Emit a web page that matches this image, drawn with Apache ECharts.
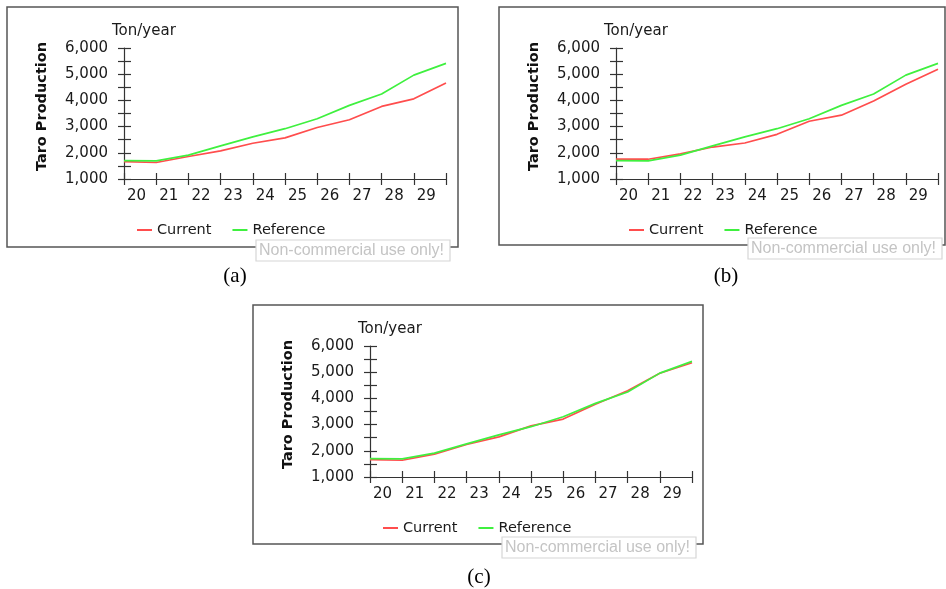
<!DOCTYPE html>
<html>
<head>
<meta charset="utf-8">
<script src="https://cdn.jsdelivr.net/npm/echarts@6/dist/echarts.min.js"></script>
<style>
html,body{margin:0;padding:0;background:#fff;}
#chart{width:946px;height:589px;}
</style>
</head>
<body>
<div id="chart"></div>
<script>
// ---- data ----
var years = [20, 21, 22, 23, 24, 25, 26, 27, 28, 29, 30];
var yTicks = [1000, 2000, 3000, 4000, 5000, 6000];
var referenceValues = [1700, 1690, 1910, 2265, 2610, 2920, 3300, 3810, 4245, 4965, 5415];
var currentA = [1665, 1630, 1860, 2075, 2365, 2570, 2965, 3260, 3770, 4060, 4660];
var currentB = [1755, 1755, 1960, 2220, 2375, 2705, 3205, 3435, 3975, 4615, 5190];
var currentC = [1665, 1640, 1870, 2240, 2530, 2950, 3210, 3780, 4290, 4960, 5360];
var panelLabels = ['(a)', '(b)', '(c)'];
var seriesNames = ['Current', 'Reference'];
var unitText = 'Ton/year';
var yTitle = 'Taro Production';
var watermarkText = 'Non-commercial use only!';

var FONT = 'DejaVu Sans';
var RED = '#ff4d4d';
var GREEN = '#3ff03f';
var AXIS = '#333';

// panel boxes: [x, y, w, h]
var boxes = [[7, 7, 451, 240], [499, 7, 446, 238], [253, 305, 450, 239]];
var currents = [currentA, currentB, currentC];

var grids = [], xAxes = [], yAxes = [], series = [], legends = [], graphics = [];

function pairs(vals) { return years.map(function (y, i) { return [y, vals[i]]; }); }

boxes.forEach(function (b, p) {
  var bx = b[0], by = b[1], bw = b[2], bh = b[3];
  grids.push({ left: bx + 117, top: by + 41, width: 322, height: 131, containLabel: false });
  var xi = xAxes.length, yi = yAxes.length;
  xAxes.push({
    type: 'value', gridIndex: p, min: 20, max: 30, interval: 1,
    axisLine: { show: true, lineStyle: { color: AXIS, width: 1.2 } },
    axisTick: { show: true, length: 6, lineStyle: { color: AXIS, width: 1.2 } },
    splitLine: { show: false },
    axisLabel: {
      color: '#1a1a1a', fontFamily: FONT, fontSize: 15, margin: 10, align: 'left',
      padding: [0, 0, 0, 3], showMaxLabel: true,
      formatter: function (v) { return v < 30 ? String(v) : ''; }
    }
  });
  xAxes.push({
    type: 'value', gridIndex: p, min: 20, max: 30, interval: 1, position: 'bottom',
    axisLine: { show: false }, splitLine: { show: false }, axisLabel: { show: false },
    axisTick: { show: true, inside: true, length: 6, lineStyle: { color: AXIS, width: 1.2 } }
  });
  yAxes.push({
    type: 'value', gridIndex: p, min: 1000, max: 6000, interval: 500, position: 'left',
    axisLine: { show: true, lineStyle: { color: AXIS, width: 1.2 } },
    axisTick: { show: true, length: 6, lineStyle: { color: AXIS, width: 1.2 } },
    splitLine: { show: false },
    axisLabel: {
      color: '#1a1a1a', fontFamily: FONT, fontSize: 15, margin: 16,
      formatter: function (v) { return yTicks.indexOf(v) >= 0 ? v.toLocaleString('en-US') : ''; }
    }
  });
  yAxes.push({
    type: 'value', gridIndex: p, min: 1000, max: 6000, interval: 500, position: 'left', offset: 0,
    axisLine: { show: false }, splitLine: { show: false }, axisLabel: { show: false },
    axisTick: { show: true, inside: true, length: 7, lineStyle: { color: AXIS, width: 1.2 } }
  });
  series.push({
    name: seriesNames[1], type: 'line', xAxisIndex: xi, yAxisIndex: yi, data: pairs(referenceValues),
    symbol: 'none', lineStyle: { color: GREEN, width: 1.7 }, itemStyle: { color: GREEN }, z: 3
  });
  series.push({
    name: seriesNames[0], type: 'line', xAxisIndex: xi, yAxisIndex: yi, data: pairs(currents[p]),
    symbol: 'none', lineStyle: { color: RED, width: 1.7 }, itemStyle: { color: RED }, z: 2
  });
  legends.push({
    data: seriesNames, left: bx + 125, top: by + 210.5, icon: 'rect', itemWidth: 15, itemHeight: 2, itemGap: 21,
    textStyle: { fontFamily: FONT, fontSize: 14.5, color: '#1a1a1a' }, selectedMode: false
  });
  graphics.push({ type: 'rect', shape: { x: bx, y: by, width: bw, height: bh },
    style: { fill: 'none', stroke: '#555', lineWidth: 1.5 }, z: 1, silent: true });
  graphics.push({ type: 'text', x: bx + 105, y: by + 24,
    style: { text: unitText, font: '15px "DejaVu Sans"', fill: '#1a1a1a', textVerticalAlign: 'middle' }, z: 5 });
  graphics.push({ type: 'text', x: bx + 35, y: by + 99.5, rotation: Math.PI / 2,
    style: { text: yTitle, font: 'bold 14.5px "DejaVu Sans"', fill: '#111', textAlign: 'center', textVerticalAlign: 'middle' }, z: 5 });
  graphics.push({ type: 'rect', shape: { x: bx + 249, y: by + bh - 7, width: 194, height: 21 },
    style: { fill: '#fff', stroke: '#d6d6d6', lineWidth: 1.2 }, z: 10, silent: true });
  graphics.push({ type: 'text', x: bx + 252, y: by + bh + 3.5,
    style: { text: watermarkText, font: '16px "Liberation Sans"', fill: '#c4c4c4', textVerticalAlign: 'middle' }, z: 11 });
  graphics.push({ type: 'text', x: [235, 726, 479][p], y: [276, 276, 577][p],
    style: { text: panelLabels[p], font: '21px "Liberation Serif"', fill: '#000', textAlign: 'center', textVerticalAlign: 'middle' }, z: 5 });
});

var chart = echarts.init(document.getElementById('chart'), null, { renderer: 'canvas' });
chart.setOption({
  animation: false,
  backgroundColor: '#fff',
  grid: grids, xAxis: xAxes, yAxis: yAxes, series: series, legend: legends,
  graphic: { elements: graphics }
});
</script>
</body>
</html>
